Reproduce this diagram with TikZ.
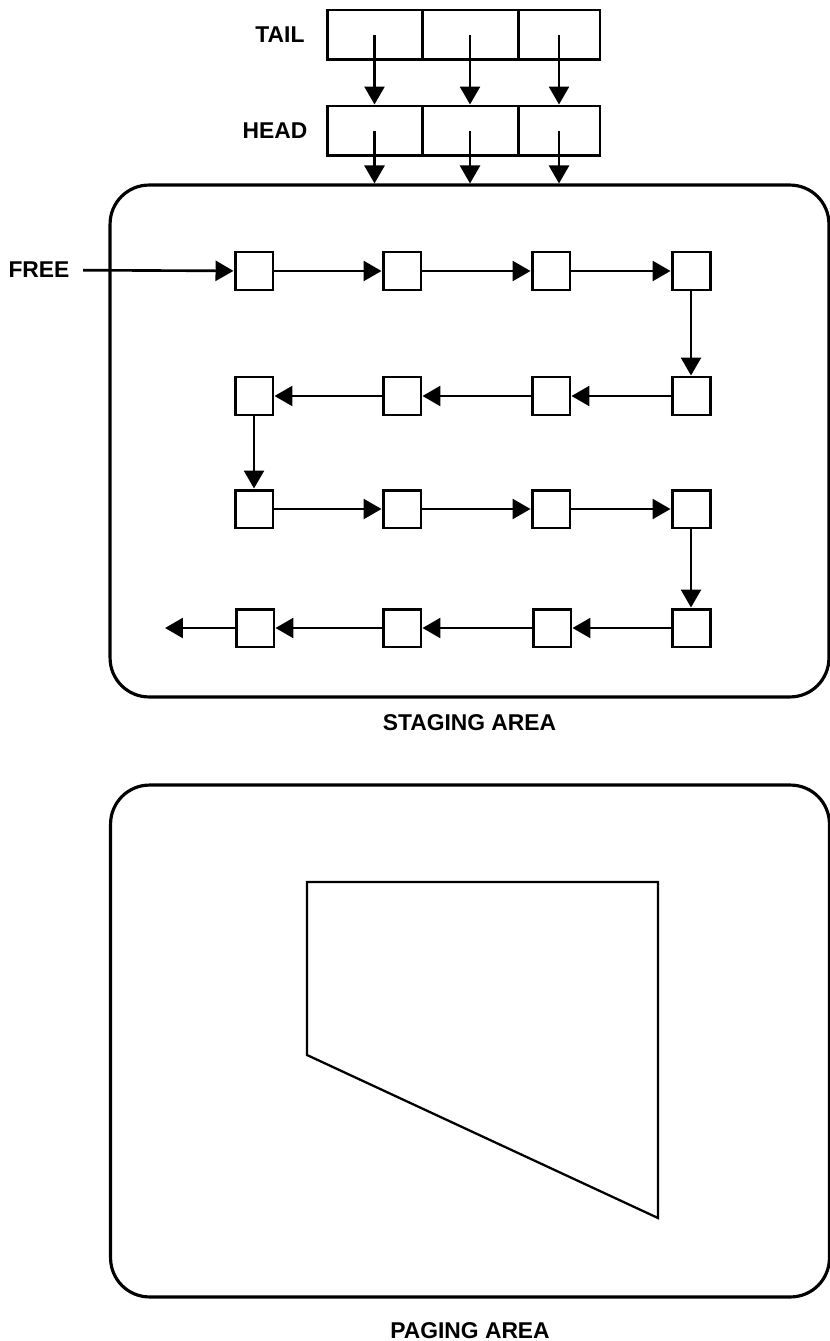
\documentclass[tikz,border=0pt]{standalone}
\usepackage{fontspec}
\setmainfont{Liberation Sans}
\usetikzlibrary{arrows.meta,positioning}

\tikzset{
  ptr/.style={-{Triangle[length=0.36cm,width=0.4cm]}, line width=1.5pt},
  cell/.style={draw, line width=1.7pt, minimum height=1cm, inner sep=0pt},
  slot/.style={draw, line width=1.7pt, minimum size=0.76cm, inner sep=0pt},
  area/.style={draw, line width=1.8pt, rounded corners=0.78cm, minimum width=14.38cm, minimum height=10.24cm},
  tag/.style={font=\fontsize{13}{15}\selectfont\bfseries},
}

\begin{document}
\begin{tikzpicture}[x=0.02cm, y=-0.02cm]
    \useasboundingbox (0,0) rectangle (830,1341);

    % Tabla TAIL
    \node[tag] (tail) at (280,35) {TAIL};
    \node[cell, minimum width=1.9cm] (t1) at (374.5,35) {};
    \node[cell, minimum width=1.92cm] (t2) at (470,35) {};
    \node[cell, minimum width=1.64cm] (t3) at (559,35) {};

    % Tabla HEAD
    \node[tag] (head) at (275,131) {HEAD};
    \node[cell, minimum width=1.9cm] (h1) at (374.5,131) {};
    \node[cell, minimum width=1.92cm] (h2) at (470,131) {};
    \node[cell, minimum width=1.64cm] (h3) at (559,131) {};

    % Areas de staging y de paginacion
    \node[area] (stage) at (469.5,441) {};
    \node[tag, below=0.2cm of stage] (stagelbl) {STAGING AREA};
    \node[area] (page) at (470,1041) {};
    \node[tag, below=0.35cm of page] (pagelbl) {PAGING AREA};

    % Punteros de TAIL a HEAD y de HEAD al area
    \draw[ptr] (t1.center) -- (h1.north);
    \draw[ptr] (t2.center) -- (h2.north);
    \draw[ptr] (t3.center) -- (h3.north);
    \draw[ptr] (h1.center) -- (h1.center |- stage.north);
    \draw[ptr] (h2.center) -- (h2.center |- stage.north);
    \draw[ptr] (h3.center) -- (h3.center |- stage.north);

    % Bloques de la lista libre (en zigzag)
    \node[slot] (n1) at (254,271) {};
    \node[slot] (n2) at (402,271) {};
    \node[slot] (n3) at (551,271) {};
    \node[slot] (n4) at (691,271) {};
    \node[slot] (n5) at (691,396) {};
    \node[slot] (n6) at (551,396) {};
    \node[slot] (n7) at (402,396) {};
    \node[slot] (n8) at (254,396) {};
    \node[slot] (n9) at (254,509) {};
    \node[slot] (n10) at (402,509) {};
    \node[slot] (n11) at (551,509) {};
    \node[slot] (n12) at (691,509) {};
    \node[slot] (n13) at (691,628) {};
    \node[slot] (n14) at (552,628) {};
    \node[slot] (n15) at (402,628) {};
    \node[slot] (n16) at (255,628) {};
    \coordinate (fin) at (165,628);

    % Enlaces de la lista libre
    \node[tag] (free) at (39,270) {FREE};
    \draw[ptr, shorten <=0.15cm] (free) -- (n1);
    \draw[ptr] (n1) -- (n2);
    \draw[ptr] (n2) -- (n3);
    \draw[ptr] (n3) -- (n4);
    \draw[ptr] (n4) -- (n5);
    \draw[ptr] (n5) -- (n6);
    \draw[ptr] (n6) -- (n7);
    \draw[ptr] (n7) -- (n8);
    \draw[ptr] (n8) -- (n9);
    \draw[ptr] (n9) -- (n10);
    \draw[ptr] (n10) -- (n11);
    \draw[ptr] (n11) -- (n12);
    \draw[ptr] (n12) -- (n13);
    \draw[ptr] (n13) -- (n14);
    \draw[ptr] (n14) -- (n15);
    \draw[ptr] (n15) -- (n16);
    \draw[ptr] (n16) -- (fin);

    % Region de paginas
    \draw[line width=1.3pt] (307,882) -- (658,882) -- (658,1218) -- (307,1055) -- cycle;
\end{tikzpicture}
\end{document}
